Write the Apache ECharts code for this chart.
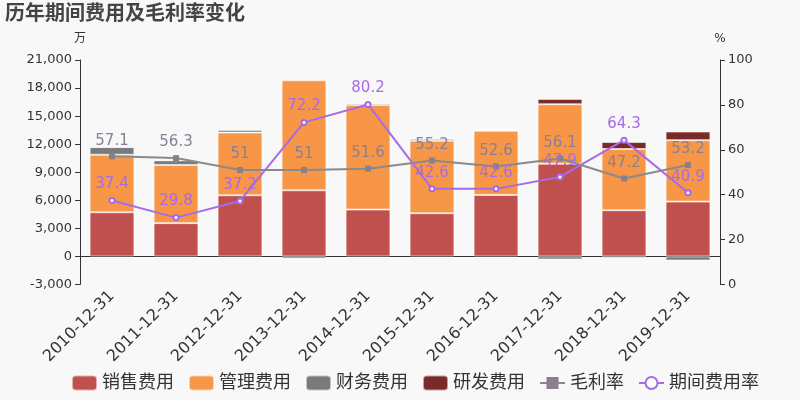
<!DOCTYPE html>
<html><head><meta charset="utf-8">
<script src="https://cdn.jsdelivr.net/npm/echarts@6/dist/echarts.min.js"></script>
<style>html,body{margin:0;padding:0;background:#f8f8f8}#c{width:800px;height:400px}</style>
</head><body><div id="c"></div>
<script>
const categories = ['2010-12-31','2011-12-31','2012-12-31','2013-12-31','2014-12-31','2015-12-31','2016-12-31','2017-12-31','2018-12-31','2019-12-31'];
const sales = [4720, 3560, 6540, 7070, 5010, 4620, 6570, 9910, 4940, 5860];
const admin = [6150, 6220, 6710, 11760, 11190, 7750, 6860, 6360, 6540, 6570];
const finance = [820, 500, 290, -250, 180, 210, 110, -320, -180, -430];
const rnd = [0, 0, 0, 0, 0, 0, 0, 570, 750, 920];
const grossMargin = [57.1, 56.3, 51, 51, 51.6, 55.2, 52.6, 56.1, 47.2, 53.2];
const expenseRate = [37.4, 29.8, 37.2, 72.2, 80.2, 42.6, 42.6, 47.9, 64.3, 40.9];

const chart = echarts.init(document.getElementById('c'));
const font = 'DejaVu Sans, "Noto Sans CJK SC", sans-serif';
const barStyle = c => ({color: c, borderColor: 'rgba(255,255,255,0.55)', borderWidth: 1});
chart.setOption({
  backgroundColor: '#f8f8f8',
  textStyle: {fontFamily: font},
  title: {text: '历年期间费用及毛利率变化', left: 0, top: 0,
    textStyle: {fontSize: 20, fontWeight: 'bold', color: '#444', fontFamily: font}},
  grid: {left: 80, right: 80, top: 60, bottom: 115.5},
  legend: {bottom: 3, left: 66, itemWidth: 25, itemHeight: 15, itemGap: 14,
    textStyle: {fontSize: 18, color: '#333'},
    data: ['销售费用','管理费用','财务费用','研发费用','毛利率','期间费用率']},
  xAxis: {type: 'category', data: categories,
    axisLine: {lineStyle: {color: '#333'}},
    axisTick: {lineStyle: {color: '#333'}},
    axisLabel: {rotate: 45, fontSize: 16, color: '#333', interval: 0, margin: 9}},
  yAxis: [
    {type: 'value', min: -3000, max: 21000, interval: 3000, name: '万',
      nameTextStyle: {color: '#333', fontSize: 12, align: 'center'}, nameGap: 15,
      axisLine: {show: true, lineStyle: {color: '#333'}}, axisTick: {show: true},
      splitLine: {show: false},
      axisLabel: {fontSize: 13, color: '#333', formatter: v => v.toLocaleString('en-US')}},
    {type: 'value', min: 0, max: 100, interval: 20, name: '%',
      nameTextStyle: {color: '#333', fontSize: 12, align: 'center'}, nameGap: 15,
      axisLine: {show: true, lineStyle: {color: '#333'}}, axisTick: {show: true},
      splitLine: {show: false},
      axisLabel: {fontSize: 13, color: '#333'}}
  ],
  series: [
    {name: '销售费用', type: 'bar', stack: 'a', data: sales, barWidth: '70%', itemStyle: barStyle('#c0504d')},
    {name: '管理费用', type: 'bar', stack: 'a', data: admin, itemStyle: barStyle('#f79646')},
    {name: '财务费用', type: 'bar', stack: 'a', data: finance, itemStyle: barStyle('#7a7a7a')},
    {name: '研发费用', type: 'bar', stack: 'a', data: rnd, itemStyle: barStyle('#7b2a2a')},
    {name: '毛利率', type: 'line', yAxisIndex: 1, data: grossMargin, symbol: 'rect', symbolSize: 6,
      itemStyle: {color: '#8a7f8c'}, lineStyle: {color: '#8a8a8a', width: 2},
      label: {show: true, position: 'top', fontSize: 15, color: '#8a7f95'}},
    {name: '期间费用率', type: 'line', yAxisIndex: 1, data: expenseRate, symbol: 'emptyCircle', symbolSize: 5,
      itemStyle: {color: '#a66be6'}, lineStyle: {color: '#a66be6', width: 2},
      label: {show: true, position: 'top', fontSize: 15, color: '#a66be6'}}
  ]
});
</script></body></html>
